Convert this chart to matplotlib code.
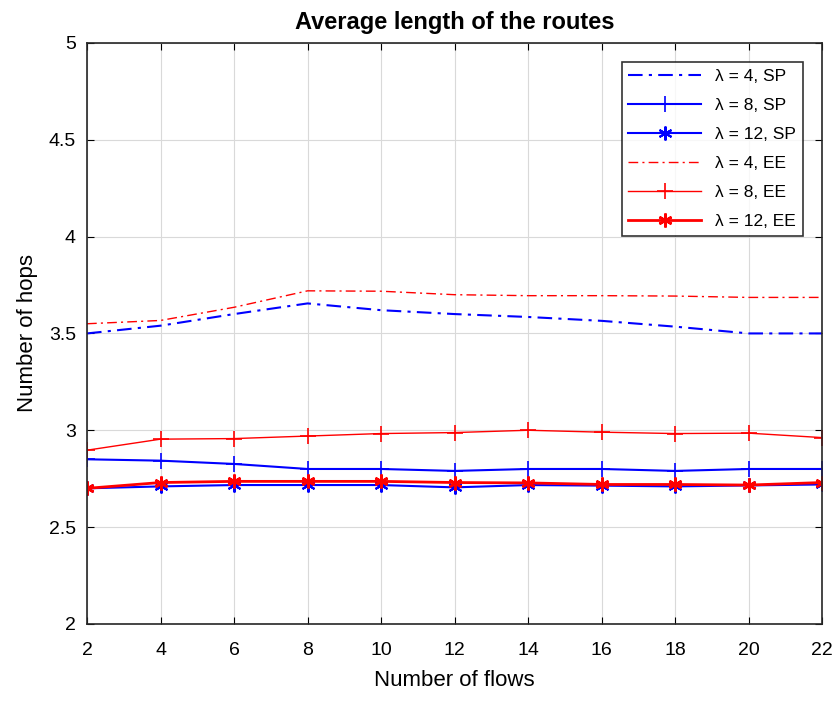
import matplotlib
matplotlib.use("Agg")
import matplotlib.pyplot as plt

flows = [2, 4, 6, 8, 10, 12, 14, 16, 18, 20, 22]

# Average number of hops, shortest path (SP)
sp_l4 = [3.50, 3.54, 3.60, 3.655, 3.62, 3.60, 3.585, 3.565, 3.535, 3.50, 3.50]
sp_l8 = [2.85, 2.843, 2.826, 2.80, 2.80, 2.79, 2.80, 2.80, 2.79, 2.80, 2.80]
sp_l12 = [2.70, 2.71, 2.717, 2.717, 2.717, 2.705, 2.717, 2.714, 2.71, 2.715, 2.72]

# Average number of hops, energy efficient (EE)
ee_l4 = [3.55, 3.567, 3.635, 3.72, 3.718, 3.70, 3.695, 3.695, 3.693, 3.686, 3.686]
ee_l8 = [2.897, 2.954, 2.957, 2.97, 2.983, 2.988, 3.0, 2.99, 2.983, 2.985, 2.962]
ee_l12 = [2.70, 2.73, 2.736, 2.736, 2.736, 2.73, 2.728, 2.72, 2.72, 2.717, 2.73]

plt.rcParams['font.family'] = ['Liberation Sans', 'DejaVu Sans']

# matlab-like asterisk: 6 spokes
star = (6, 2, 0)
dashdot = (0, (7, 3, 1.5, 3))

fig = plt.figure(figsize=(8.39, 7.01), dpi=100)
ax = fig.add_axes([0.1037, 0.110, 0.8763, 0.8287])

ax.plot(flows, sp_l4, color='blue', linestyle=dashdot, lw=1.5, label='λ = 4, SP')
ax.plot(flows, sp_l8, color='blue', lw=1.5, marker='+', ms=11, mew=1.2, label='λ = 8, SP')
ax.plot(flows, sp_l12, color='blue', lw=1.5, marker=star, ms=10, mew=1.5, label='λ = 12, SP')
ax.plot(flows, ee_l4, color='red', linestyle=dashdot, lw=1.0, label='λ = 4, EE')
ax.plot(flows, ee_l8, color='red', lw=1.0, marker='+', ms=11, mew=1.2, label='λ = 8, EE')
ax.plot(flows, ee_l12, color='red', lw=2.0, marker=star, ms=10, mew=1.8, label='λ = 12, EE')

ax.set_xlim(2, 22)
ax.set_ylim(2, 5)
ax.set_xticks(flows)
ax.set_yticks([2, 2.5, 3, 3.5, 4, 4.5, 5])
ax.set_yticklabels(['2', '2.5', '3', '3.5', '4', '4.5', '5'])
ax.grid(True, color='#d9d9d9', lw=0.8)
ax.tick_params(direction='in', top=True, right=True, labelsize=14, length=5)
ax.tick_params(axis='x', pad=13)
ax.tick_params(axis='y', pad=8)
for s in ax.spines.values():
    s.set_linewidth(1.2)
    s.set_color('#262626')

ax.set_title('Average length of the routes', fontsize=17, fontweight='bold', pad=10)
ax.set_xlabel('Number of flows', fontsize=16, labelpad=8)
ax.set_ylabel('Number of hops', fontsize=16, labelpad=8)

leg = ax.legend(loc='upper right', fontsize=12.5, frameon=True, fancybox=False,
                edgecolor='black', handlelength=4.2, borderaxespad=1.1, labelspacing=0.8)
leg.get_frame().set_linewidth(1.2)

fig.savefig('out.png', dpi=100)
